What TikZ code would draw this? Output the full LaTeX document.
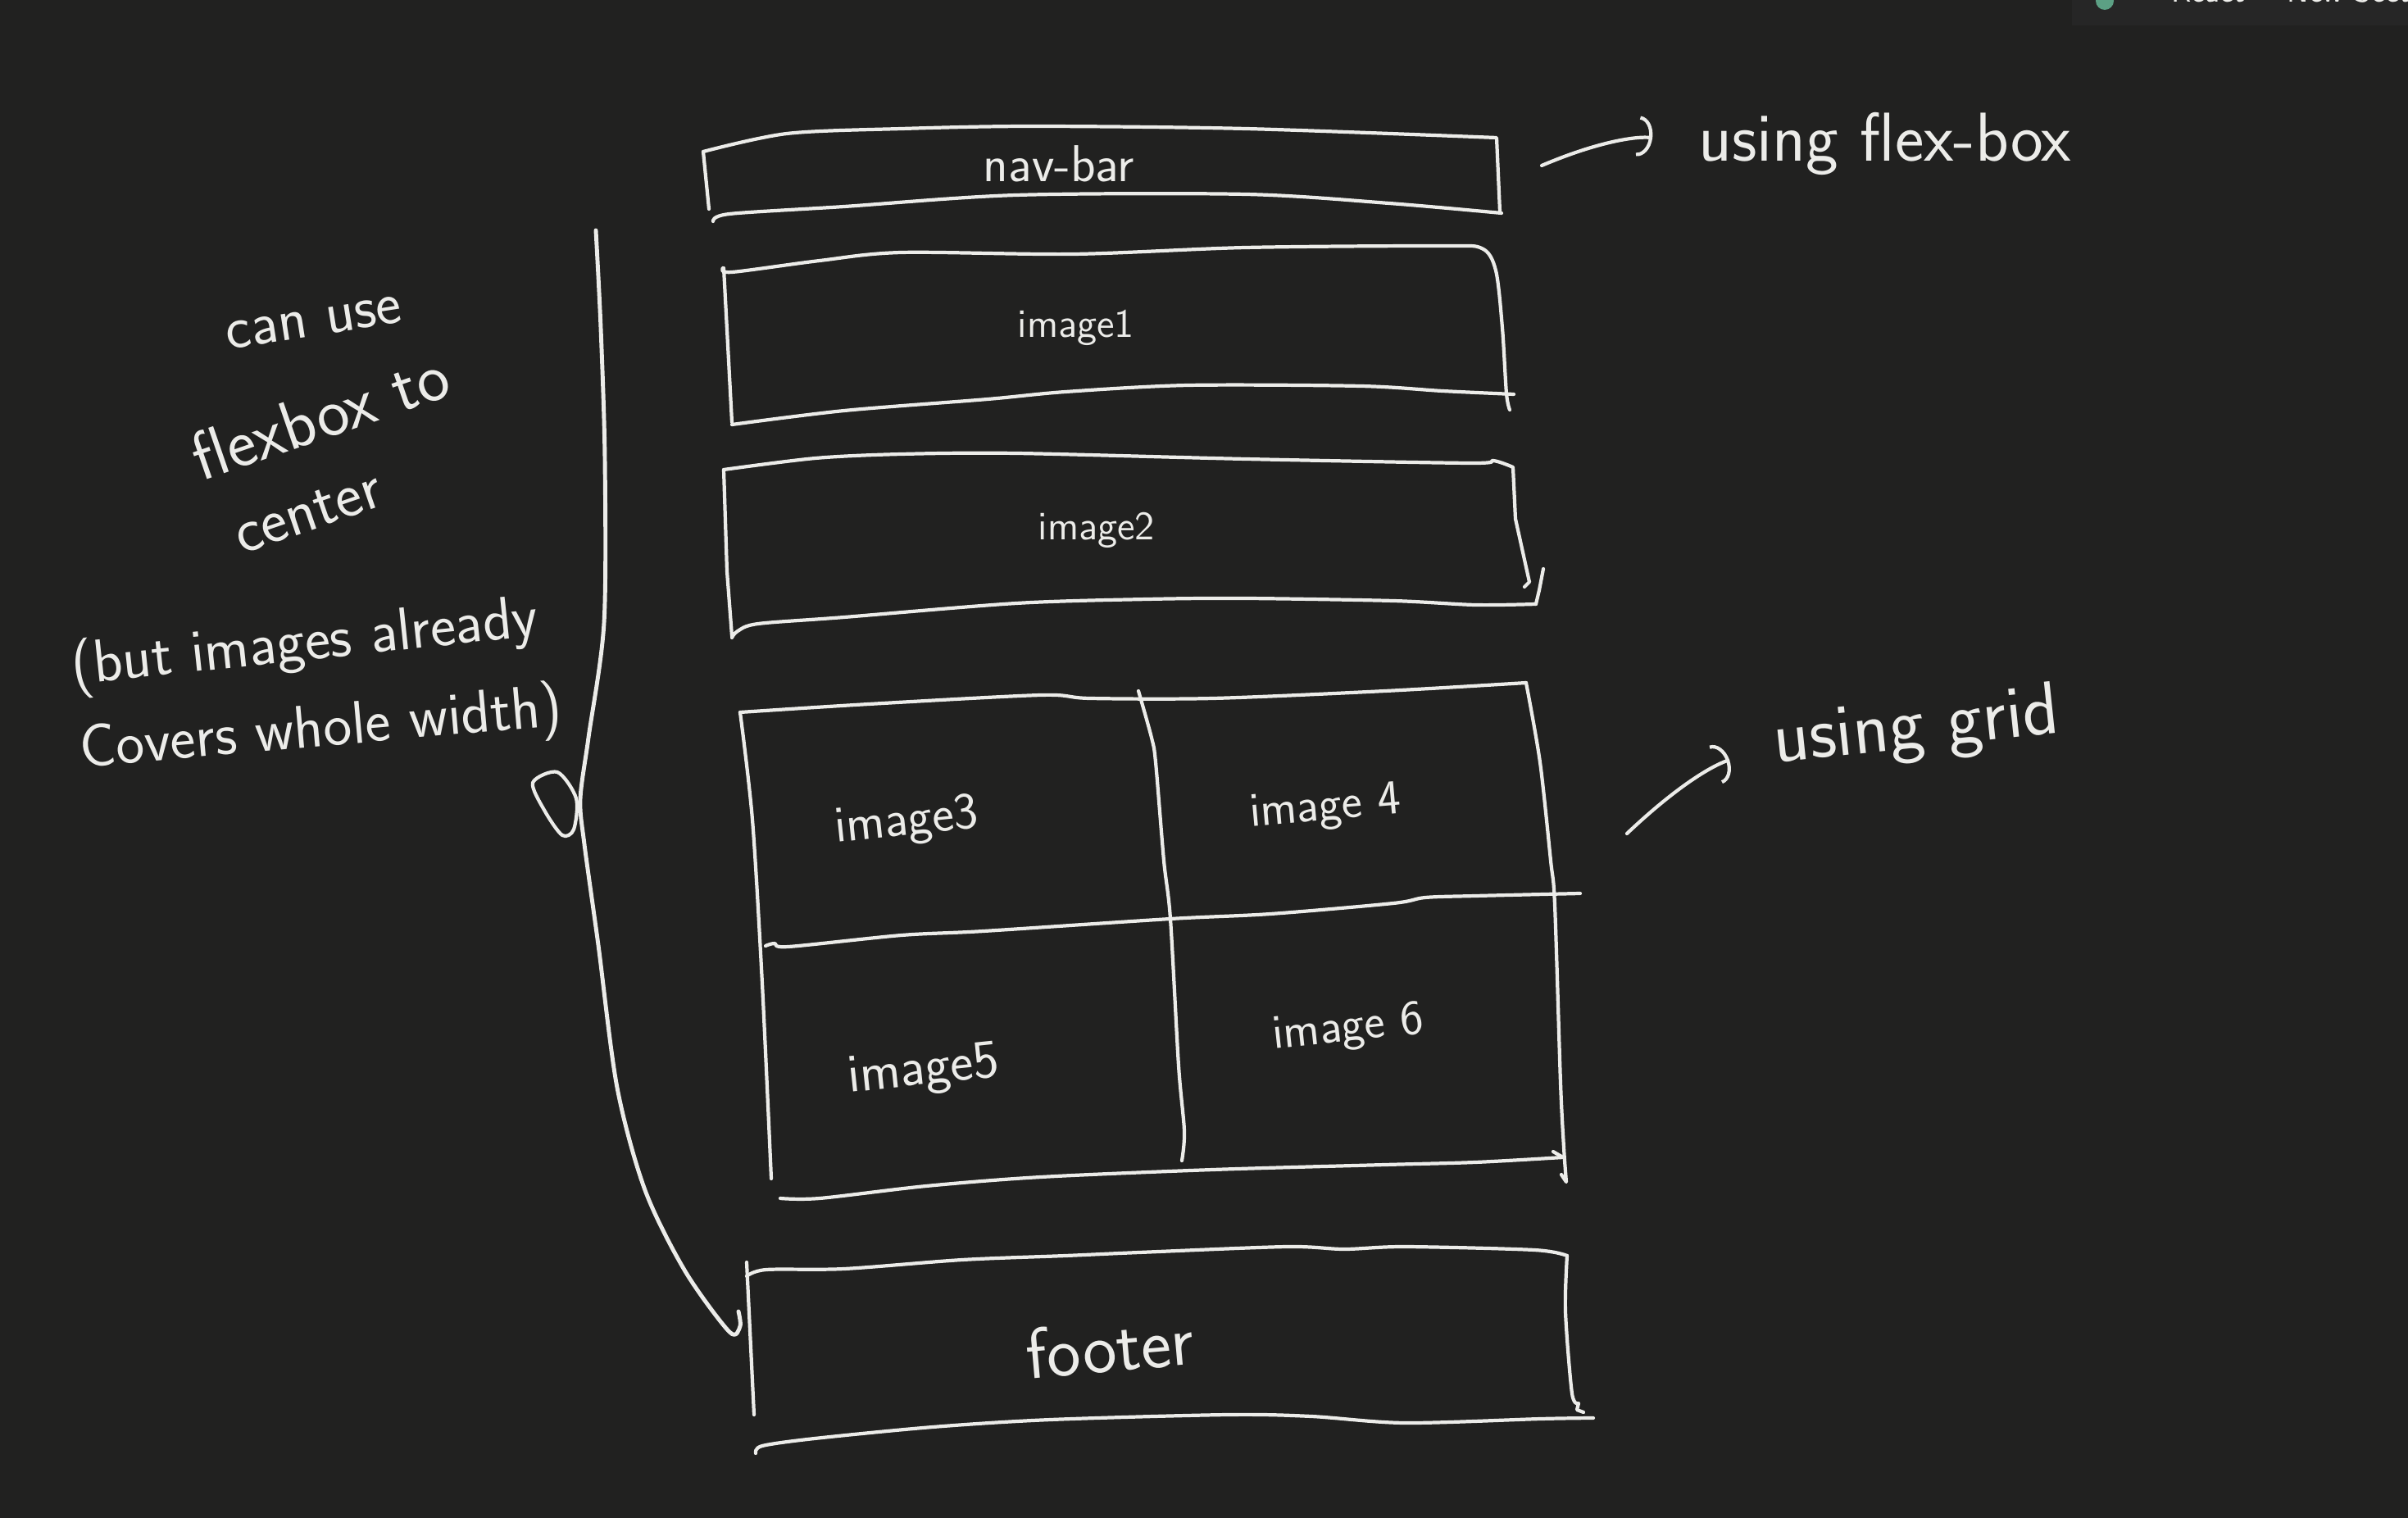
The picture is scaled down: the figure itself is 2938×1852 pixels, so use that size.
\documentclass[tikz,border=0pt]{standalone}
\usepackage{tikz}
\usetikzlibrary{
  arrows.meta,
}
\definecolor{board}{RGB}{33,33,32}
\definecolor{tabbar}{RGB}{38,38,38}
\definecolor{chalk}{RGB}{236,236,233}
\definecolor{syncgreen}{RGB}{92,160,132}
\tikzset{
  sketch/.style={
    draw=chalk,
    line width=1.2pt,
    line cap=round,
    line join=round,
  },
  boxlabel/.style={
    text=chalk,
    inner sep=0pt,
    font=\sffamily\fontsize{18}{22}\selectfont,
  },
  note/.style={
    text=chalk,
    inner sep=0pt,
    font=\sffamily\fontsize{21}{25}\selectfont,
  },
  arrow/.style={
    sketch,
    -{Arc Barb[length=5pt,width=14pt]},
  },
}

\begin{document}
\begin{tikzpicture}[x=0.01cm, y=-0.01cm]

  % Board
  \fill[board] (0,0) rectangle (2938,1852);
  \useasboundingbox (0,0) rectangle (2938,1852);
  \fill[tabbar] (2528,0) rectangle (2938,31);
  \fill[syncgreen] (2568,1) circle (11);
  \begin{scope}
    \clip (2528,0) rectangle (2938,31);
    \node (tabtext) [anchor=base west, text=chalk!80, font=\sffamily\fontsize{11}{13}\selectfont] at (2637,3) {React \quad New Section};
  \end{scope}

  % Box labels
  \node (navtxt) [boxlabel] at (1292,200) {nav-bar};
  \node (img1txt) [boxlabel, font=\sffamily\fontsize{14}{16}\selectfont] at (1313,400) {image1};
  \node (img2txt) [boxlabel, font=\sffamily\fontsize{14}{16}\selectfont] at (1338,647) {image2};
  \node (img3txt) [boxlabel, rotate=6] at (1106,1004) {image3};
  \node (img4txt) [boxlabel, rotate=5, font=\sffamily\fontsize{17}{20}\selectfont] at (1617,987) {image 4};
  \node (img5txt) [boxlabel, rotate=6, font=\sffamily\fontsize{19}{22}\selectfont] at (1127,1308) {image5};
  \node (img6txt) [boxlabel, rotate=6, font=\sffamily\fontsize{17}{20}\selectfont] at (1645,1256) {image 6};
  \node (foottxt) [boxlabel, rotate=5, font=\sffamily\fontsize{25}{30}\selectfont] at (1354,1643) {footer};

  % Notes
  \node (flexnote) [note, font=\sffamily\fontsize{24}{28}\selectfont] at (2300,175) {using flex-box};
  \node (gridnote) [note, rotate=6, font=\sffamily\fontsize{26}{30}\selectfont] at (2338,890) {using grid};
  \node (cannote) [note, rotate=9] at (383,394) {can use};
  \node (flexboxnote) [note, rotate=19, font=\sffamily\fontsize{24}{28}\selectfont] at (390,507) {flexbox to};
  \node (centernote) [note, rotate=19, font=\sffamily\fontsize{22}{26}\selectfont] at (376,626) {center};
  \node (butnote) [note, rotate=6] at (372,787) {(but images already};
  \node (coversnote) [note, rotate=5] at (392,892) {Covers whole width)};

  % nav-bar box
  \draw[sketch] plot[smooth] coordinates {(858,185) (960,163) (1100,157) (1260,154) (1520,157) (1826,168)} -- (1830,258);
  \draw[sketch] (858,185) -- (865,255);
  \draw[sketch] plot[smooth] coordinates {(1832,260) (1695,248) (1520,237) (1240,238) (1030,252) (890,261) (870,270)};

  % image1 box
  \draw[sketch] plot[smooth] coordinates {(882,327) (893,332) (1000,318) (1100,308) (1310,310) (1520,302) (1758,300) (1808,303) (1825,330) (1833,400) (1838,480) (1842,500)};
  \draw[sketch] (883,327) -- (893,515);
  \draw[sketch] plot[smooth] coordinates {(1847,481) (1760,477) (1660,471) (1450,470) (1300,478) (1205,487) (1030,501) (893,518)};

  % image2 box
  \draw[sketch] plot[smooth] coordinates {(883,573) (995,559) (1100,554) (1240,553) (1520,560) (1793,565) (1822,562) (1846,570)} -- (1849,633) -- (1866,710) -- (1860,716);
  \draw[sketch] (883,573) -- (887,697) -- (893,776);
  \draw[sketch] (1883,694) -- (1878,720) -- (1874,737);
  \draw[sketch] plot[smooth] coordinates {(1874,737) (1800,738) (1700,733) (1520,730) (1400,731) (1240,736) (1030,753) (925,761) (900,770) (893,778)};

  % grid box
  \draw[sketch] plot[smooth] coordinates {(903,869) (1060,859) (1270,848) (1330,852) (1480,852) (1690,843) (1862,833)};
  \draw[sketch] plot[smooth] coordinates {(1862,833) (1879,930) (1892,1050) (1897,1104) (1904,1321) (1908,1400) (1911,1442)} -- (1905,1433);
  \draw[sketch] plot[smooth] coordinates {(903,869) (918,1000) (930,1200) (941,1438)};
  \draw[sketch] plot[smooth] coordinates {(1907,1412) (1800,1418) (1690,1421) (1480,1427) (1270,1436) (1130,1447) (1000,1462) (952,1462)};
  \draw[sketch] (1895,1405) -- (1907,1412);
  \draw[sketch] plot[smooth] coordinates {(1389,843) (1405,900) (1410,930) (1420,1050) (1428,1121) (1438,1300) (1445,1380) (1442,1416)};
  \draw[sketch] plot[smooth] coordinates {(934,1154) (945,1151) (962,1155) (1100,1141) (1200,1136) (1428,1121) (1550,1115) (1700,1102) (1739,1095) (1800,1093) (1928,1090)};

  % footer box
  \draw[sketch] plot[smooth] coordinates {(911,1557) (935,1549) (1030,1548) (1174,1537) (1300,1532) (1390,1528) (1570,1521) (1640,1524) (1714,1521) (1872,1525) (1912,1532)};
  \draw[sketch] plot[smooth] coordinates {(1912,1532) (1910,1600) (1918,1700) (1926,1712)} -- (1924,1720) -- (1932,1723);
  \draw[sketch] (911,1540) -- (920,1726);
  \draw[sketch] plot[smooth] coordinates {(1944,1730) (1880,1731) (1714,1736) (1600,1728) (1498,1726) (1282,1732) (1138,1741) (994,1755) (930,1764) (922,1773)};

  % Brace on the left
  \draw[sketch, line width=1.4pt] plot[smooth] coordinates {(727,281) (733,400) (738,560) (737,760) (718,900) (708,975) (713,1030) (730,1153) (753,1327) (787,1452) (836,1551) (890,1625) (903,1618) (901,1600)};
  \draw[sketch] plot[smooth cycle] coordinates {(686,1019) (700,1012) (703,974) (680,942) (650,955) (665,990)};

  % Arrows
  \coordinate (flexfrom) at (1881,202);
  \coordinate (gridfrom) at (1985,1017);
  \draw[arrow, shorten >=16pt] (flexfrom) to[bend left=15] (flexnote.west);
  \draw[arrow, shorten >=16pt] (gridfrom) to[bend left=12] (gridnote.west);

\end{tikzpicture}
\end{document}
